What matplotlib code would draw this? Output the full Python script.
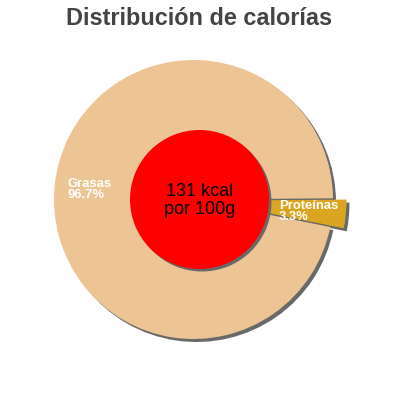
import matplotlib
matplotlib.use("Agg")
import matplotlib.pyplot as plt

# Data
categories = ["Grasas", "Proteínas"]
percentages = [96.7, 3.3]
pct_labels = ["96.7%", "3.3%"]
energy_text = ["131 kcal", "por 100g"]
title = "Distribución de calorías"

colors = ["#edc493", "#daa520"]
shadow_color = "#696969"

plt.rcParams['font.family'] = ['Liberation Sans', 'DejaVu Sans']

W = H = 400
fig = plt.figure(figsize=(4, 4), dpi=100)
ax = fig.add_axes([0, 0, 1, 1])

cx, cy, R = 193.5, H - 199.5, 139.5
explode = [0, 13.5]
start = 0.5
so = 3  # shadow offset px

# shadow of main pie
ax.pie(percentages, colors=[shadow_color] * 2, startangle=start, counterclock=True,
       explode=explode, center=(cx + so, cy - so), radius=R, frame=True,
       wedgeprops=dict(linewidth=0, zorder=1))
# main pie
ax.pie(percentages, colors=colors, startangle=start, counterclock=True,
       explode=explode, center=(cx, cy), radius=R, frame=True,
       wedgeprops=dict(linewidth=0, zorder=2))

# inner red circle with shadow
icx, icy, r = 199.5, H - 199.5, 69.5
ax.pie([1], colors=[shadow_color], center=(icx + 2.5, icy - 2.5), radius=r, frame=True,
       wedgeprops=dict(linewidth=0, zorder=3))
ax.pie([1], colors=["#ff0000"], center=(icx, icy), radius=r, frame=True,
       wedgeprops=dict(linewidth=0, zorder=4))

ax.set_xlim(0, W)
ax.set_ylim(0, H)
ax.set_aspect('equal')
ax.axis('off')

lab_fs = 13 * 72 / 100
ax.text(67, H - 187, categories[0], color='white', fontsize=lab_fs, fontweight='bold',
        ha='left', va='baseline', zorder=5)
ax.text(67, H - 198.5, pct_labels[0], color='white', fontsize=lab_fs, fontweight='bold',
        ha='left', va='baseline', zorder=5)
ax.text(279, H - 209, categories[1], color='white', fontsize=lab_fs, fontweight='bold',
        ha='left', va='baseline', zorder=5)
ax.text(279, H - 220, pct_labels[1], color='white', fontsize=lab_fs, fontweight='bold',
        ha='left', va='baseline', zorder=5)

ctr_fs = 18 * 72 / 100
ax.text(200, H - 196, energy_text[0], color='black', fontsize=ctr_fs,
        ha='center', va='baseline', zorder=5)
ax.text(200, H - 213.5, energy_text[1], color='black', fontsize=ctr_fs,
        ha='center', va='baseline', zorder=5)

ax.text(199, H - 25, title, color='#444444', fontsize=23.5 * 72 / 100, fontweight='bold',
        ha='center', va='baseline', zorder=5)

fig.savefig("out.png", dpi=100)
